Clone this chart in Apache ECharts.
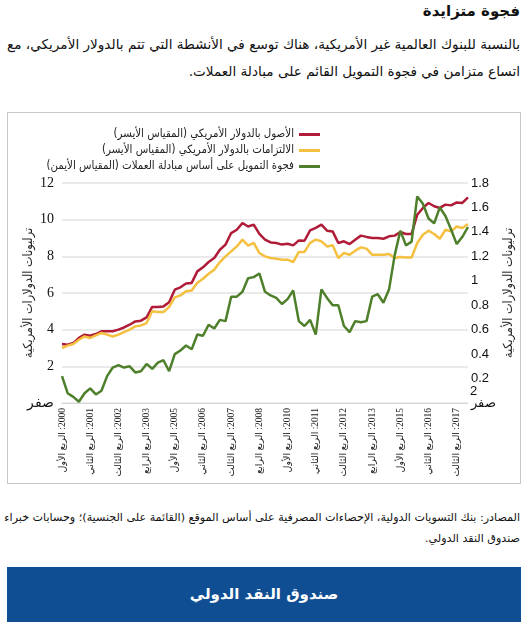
<!DOCTYPE html>
<html lang="ar">
<head>
<meta charset="utf-8">
<script src="https://cdn.jsdelivr.net/npm/echarts@6/dist/echarts.min.js"></script>
<style>
  html, body { margin: 0; padding: 0; background: #fff; }
  body { width: 528px; height: 625px; position: relative; overflow: hidden; font-family: "DejaVu Sans", Tahoma, sans-serif; color: #111; }
  #title { position: absolute; top: 2px; right: 8px; font-size: 15px; font-weight: bold; direction: rtl; white-space: nowrap; }
  #sub { position: absolute; top: 31px; right: 8px; font-size: 13.6px; line-height: 27px; direction: rtl; text-align: right; white-space: nowrap; }
  #box { position: absolute; left: 7px; top: 112px; width: 514px; height: 372px; border: 1px solid #c6c6c6; box-sizing: border-box; }
  #chart { position: absolute; left: 0; top: 0; width: 512px; height: 370px; direction: rtl; }
  #src { position: absolute; top: 507px; right: 8px; font-size: 11.15px; line-height: 21px; direction: rtl; text-align: right; white-space: nowrap; }
  #btn { position: absolute; left: 7px; top: 567px; width: 514px; height: 55px; background: #0f4e92; color: #fff; font-weight: bold; font-size: 15px; line-height: 55px; text-align: center; direction: rtl; }
</style>
</head>
<body>
<div id="title">فجوة متزايدة</div>
<div id="sub">بالنسبة للبنوك العالمية غير الأمريكية، هناك توسع في الأنشطة التي تتم بالدولار الأمريكي، مع<br>اتساع متزامن في فجوة التمويل القائم على مبادلة العملات.</div>
<div id="box"><div id="chart"></div></div>
<div id="src">المصادر: بنك التسويات الدولية، الإحصاءات المصرفية على أساس الموقع (القائمة على الجنسية)؛ وحسابات خبراء<br>صندوق النقد الدولي.</div>
<div id="btn">صندوق النقد الدولي</div>
<script>
// ---- data ----
const years = [2000,2001,2002,2003,2004,2005,2006,2007,2008,2009,2010,2011,2012,2013,2014,2015,2016,2017,2018];
const quarterNames = ['الربع الأول','الربع الثاني','الربع الثالث','الربع الرابع'];
const seriesNames = [
  'الأصول بالدولار الأمريكي (المقياس الأيسر)',
  'الالتزامات بالدولار الأمريكي (المقياس الأيسر)',
  'فجوة التمويل على أساس مبادلة العملات (المقياس الأيمن)'
];
const usdAssets = [3.22,3.18,3.27,3.55,3.73,3.67,3.76,3.91,3.91,3.91,4.00,4.12,4.27,4.45,4.49,4.67,5.24,5.24,5.27,5.49,6.18,6.31,6.52,6.55,7.18,
  7.40,7.69,7.91,8.36,8.64,9.27,9.45,9.82,9.63,9.73,9.22,8.91,8.76,8.73,8.64,8.69,8.60,8.87,8.85,9.42,9.55,9.73,9.40,9.36,8.73,
  8.82,8.67,8.91,9.13,9.06,9.00,9.00,8.96,9.09,9.13,9.33,9.22,9.22,10.27,10.64,10.91,10.73,10.64,10.82,10.78,10.94,10.91,11.22];
const usdLiabilities = [3.00,3.13,3.22,3.45,3.63,3.55,3.69,3.82,3.73,3.63,3.73,3.87,4.00,4.18,4.23,4.36,5.00,4.96,4.96,5.24,5.76,5.87,6.09,6.14,6.56,
  6.78,7.05,7.27,7.69,8.00,8.27,8.54,8.91,8.58,8.73,8.18,8.00,7.91,7.87,7.82,7.82,7.69,8.24,8.24,8.73,8.91,8.82,8.54,8.60,7.91,
  8.18,8.09,8.31,8.49,8.42,8.09,8.09,8.09,8.13,7.91,7.96,7.94,7.94,8.73,9.18,9.40,9.22,8.96,9.45,9.36,9.63,9.55,9.76];
const fundingGap = [0.22,0.08,0.05,0.01,0.08,0.12,0.07,0.10,0.22,0.29,0.31,0.29,0.30,0.25,0.26,0.32,0.28,0.33,0.35,0.26,0.40,0.43,0.47,0.44,0.56,
  0.55,0.64,0.61,0.68,0.67,0.87,0.87,0.91,1.02,1.03,1.06,0.91,0.88,0.86,0.81,0.85,0.92,0.67,0.63,0.68,0.56,0.93,0.86,0.80,0.80,
  0.63,0.58,0.67,0.66,0.67,0.87,0.89,0.82,0.93,1.21,1.41,1.29,1.32,1.69,1.63,1.51,1.47,1.60,1.53,1.42,1.30,1.36,1.44];
const leftAxisName = 'ترليونات الدولارات الأمريكية';
const rightAxisName = 'ترليونات الدولارات الأمريكية';
const zeroLabel = 'صفر';
const strayRightLabel = '2';
const colors = ['#b01c38', '#f5bf3f', '#4e7f2a'];

// categories: every quarter, trimmed to the data length
const categories = [];
years.forEach(y => quarterNames.forEach(q => categories.push(y + ': ' + q)));
categories.length = usdAssets.length;

const chart = echarts.init(document.getElementById('chart'), null, { renderer: 'canvas' });
const condAr = '"DejaVu Sans Condensed", "DejaVu Sans", sans-serif';
chart.setOption({
  animation: false,
  color: colors,
  grid: { left: 54, top: 70, width: 406, height: 220, containLabel: false, outerBoundsMode: 'none' },
  legend: {
    data: seriesNames,
    orient: 'vertical',
    right: 195, top: 11,
    align: 'right',
    icon: 'rect', itemWidth: 21, itemHeight: 3, itemGap: 5,
    textStyle: { fontSize: 11.4, color: '#222', fontFamily: condAr }
  },
  xAxis: {
    type: 'category',
    data: categories,
    boundaryGap: false,
    axisLine: { lineStyle: { color: '#d9d9d9', width: 1 } },
    axisTick: { show: false },
    axisLabel: {
      interval: 4, rotate: 90, margin: 5,
      fontSize: 9.5, color: '#222', fontFamily: '"Liberation Serif", "DejaVu Sans", serif'
    },
    splitLine: { show: false }
  },
  yAxis: [
    {
      type: 'value', min: 0, max: 12, interval: 2, position: 'left',
      name: leftAxisName, nameLocation: 'middle', nameRotate: 90, nameGap: 27, nameMoveOverlap: false,
      nameTextStyle: { fontSize: 12.5, color: '#222', fontFamily: condAr },
      axisLine: { show: false }, axisTick: { show: false },
      axisLabel: { margin: 8, fontSize: 14, color: '#111', fontFamily: '"Liberation Serif", serif',
        formatter: v => v === 0 ? zeroLabel : String(v) },
      splitLine: { lineStyle: { color: '#e3e3e3', width: 1.5 } }
    },
    {
      type: 'value', min: 0, max: 1.8, interval: 0.2, position: 'right',
      name: rightAxisName, nameLocation: 'middle', nameRotate: 90, nameGap: 34, nameMoveOverlap: false,
      nameTextStyle: { fontSize: 12.5, color: '#222', fontFamily: condAr },
      axisLine: { show: false }, axisTick: { show: false },
      axisLabel: { margin: 3, fontSize: 13, color: '#111', fontFamily: '"Liberation Sans", Arial, sans-serif',
        formatter: v => v === 0 ? zeroLabel : String(+v.toFixed(1)) },
      splitLine: { show: false }
    }
  ],
  graphic: [
    { type: 'text', left: 462, top: 272, style: { text: strayRightLabel, font: '13px "Liberation Sans", Arial, sans-serif', fill: '#111' } }
  ],
  series: [
    { name: seriesNames[0], type: 'line', yAxisIndex: 0, data: usdAssets, symbol: 'none', lineStyle: { width: 2.5, color: colors[0] } },
    { name: seriesNames[1], type: 'line', yAxisIndex: 0, data: usdLiabilities, symbol: 'none', lineStyle: { width: 2.5, color: colors[1] } },
    { name: seriesNames[2], type: 'line', yAxisIndex: 1, data: fundingGap, symbol: 'none', lineStyle: { width: 2.5, color: colors[2] } }
  ]
});
</script>
</body>
</html>
